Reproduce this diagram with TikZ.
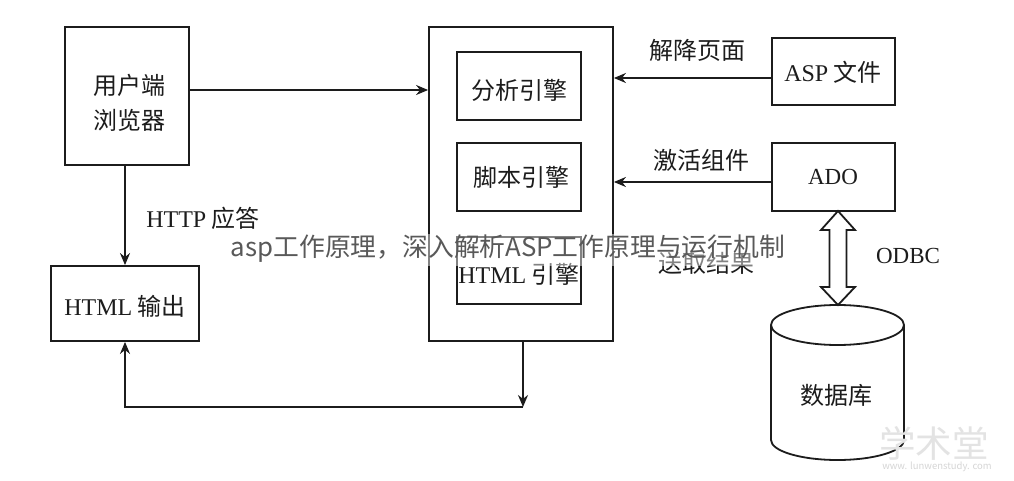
\documentclass[tikz,border=0pt]{standalone}
\usepackage{fontspec}
\setmainfont{Liberation Serif}
\newfontfamily\cjk{Noto Sans CJK SC}
\usetikzlibrary{arrows.meta}
\definecolor{ink}{HTML}{1c1c1c}
\tikzset{
  x=1pt,y=-1pt,
  box/.style={draw=ink,line width=1.8pt,fill=white,inner sep=0pt},
  lbl/.style={inner sep=0pt,text=ink,font=\fontsize{24}{27}\selectfont\cjk},
  ltn/.style={inner sep=0pt,text=ink,font=\fontsize{23}{27}\selectfont},
  wire/.style={draw=ink,line width=1.8pt},
  flow/.style={wire,-{Stealth[length=12pt,width=10pt]}},
}
\begin{document}
\begin{tikzpicture}
\useasboundingbox (0,0) rectangle (1014,481);
\fill[white] (0,0) rectangle (1014,481);
% main boxes
\node[box,minimum width=124pt,minimum height=138pt] (browser) at (127,96) {};
\node[box,minimum width=148pt,minimum height=75pt] (html) at (125,303.5) {};
\node[box,minimum width=184pt,minimum height=314pt] (server) at (521,184) {};
\node[box,minimum width=124pt,minimum height=68pt] (parse) at (519,86) {};
\node[box,minimum width=124pt,minimum height=68pt] (script) at (519,177) {};
\node[box,minimum width=124pt,minimum height=67pt] (htmleng) at (519,270.5) {};
\node[box,minimum width=123pt,minimum height=67pt] (asp) at (833.5,71.5) {};
\node[box,minimum width=123pt,minimum height=68pt] (ado) at (833.5,177) {};
% box labels
\node[lbl] (t0a) at (129,85) {用户端};
\node[lbl] (t0b) at (129,120) {浏览器};
\node[lbl] (t1) at (125,306) {{\rmfamily HTML} 输出};
\node[lbl] (t2) at (519,90) {分析引擎};
\node[lbl] (t3) at (521,177) {脚本引擎};
\node[lbl] (t4) at (519,274) {{\rmfamily HTML} 引擎};
\node[lbl] (t5) at (833,72) {{\rmfamily ASP} 文件};
\node[ltn] (t6) at (833,177) {ADO};
% free labels
\node[lbl] (l1) at (697,50) {解降页面};
\node[lbl] (l2) at (701,160) {激活组件};
\node[lbl] (l3) at (706,263) {送取结果};
\node[lbl] (l4) at (203,218) {{\rmfamily HTTP} 应答};
\node[ltn] (l5) at (908,256) {ODBC};
% cylinder
\draw[draw=ink,line width=1.8pt,fill=white]
  (771,325) arc[start angle=180,end angle=360,x radius=66.5,y radius=20]
  -- (904,440) arc[start angle=0,end angle=180,x radius=66.5,y radius=20] -- cycle;
\draw[draw=ink,line width=1.8pt]
  (771,325) arc[start angle=180,end angle=0,x radius=66.5,y radius=20];
\node[lbl] (t7) at (836,395) {数据库};
% connectors
\coordinate (b1) at (browser.east |- 0,90);
\coordinate (b2) at (server.west |- 0,90);
\draw[flow] (b1) -- (b2);
\coordinate (c1) at (125,165);
\draw[flow] (c1) -- (html.north);
\coordinate (a1) at (asp.west |- 0,78);
\coordinate (a2) at (server.east |- 0,78);
\draw[flow] (a1) -- (a2);
\coordinate (d1) at (ado.west |- 0,182);
\coordinate (d2) at (server.east |- 0,182);
\draw[flow] (d1) -- (d2);
\coordinate (s1) at (523,341);
\coordinate (s2) at (523,407);
\draw[flow] (s1) -- (s2);
\draw[flow] (s2) -- (html.south |- s2) -- (html.south);
% double arrow
\draw[draw=ink,line width=1.8pt,fill=white,line join=miter]
  (838,211) -- (855,230) -- (846.5,230) -- (846.5,287) -- (855,287) -- (838,305)
  -- (821,287) -- (829.5,287) -- (829.5,230) -- (821,230) -- cycle;
% overlay banner
\fill[white,opacity=.45] (226,234) rectangle (790,266);
\node[inner sep=0pt,text=black!65,font=\fontsize{25.8}{28}\selectfont\cjk] (banner) at (508,249) {asp工作原理，深入解析ASP工作原理与运行机制};
% corner watermark
\node[inner sep=0pt,text=black!11,font=\fontsize{36.5}{38}\selectfont\cjk] (wm) at (934,443) {学术堂};
\node[inner sep=0pt,text=black!16,font=\fontsize{9.5}{11}\selectfont\cjk] (wmurl) at (937,467) {www. lunwenstudy. com};
\end{tikzpicture}
\end{document}
